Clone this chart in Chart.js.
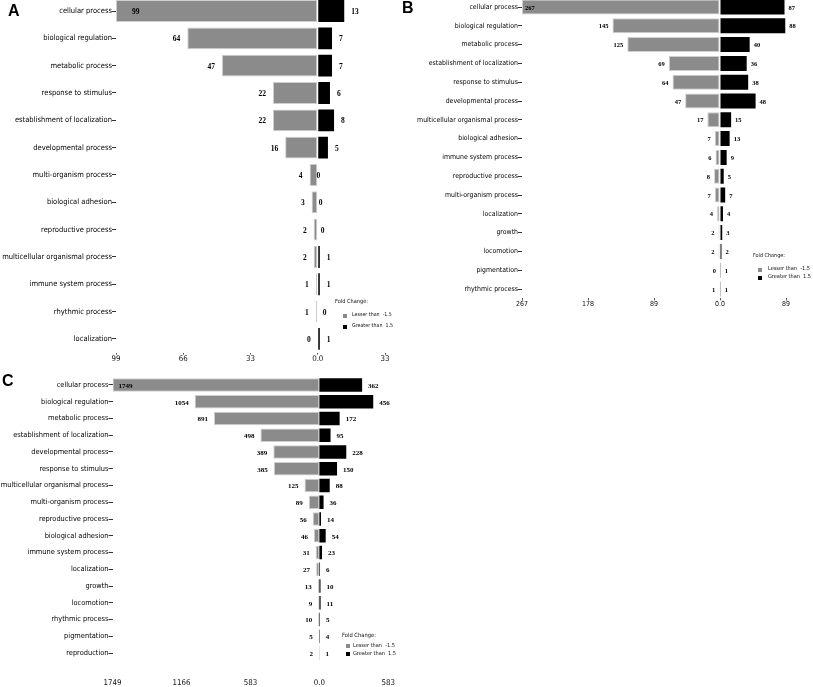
<!DOCTYPE html>
<html>
<head>
<meta charset="utf-8">
<script src="https://cdn.jsdelivr.net/npm/chart.js@4.4.1/dist/chart.umd.min.js"></script>
<style>
  body { margin: 0; background: #fff; }
  #wrap { position: relative; width: 813px; height: 687px; overflow: hidden; background: #fff; }
  .panel { position: absolute; }
  .letter { position: absolute; font-family: "Liberation Sans", Arial, sans-serif; font-weight: bold; font-size: 16px; line-height: 16px; color: #000; }
  .leg { position: absolute; color: #111; white-space: nowrap; line-height: 1; }
  .leg div { position: absolute; }
  .leg .sq { width: 4px; height: 4px; }
</style>
</head>
<body>
<div id="wrap">
  <div class="panel" style="left:0;top:-10px"><canvas id="chartA" width="400" height="380"></canvas></div>
  <div class="panel" style="left:400px;top:-10px"><canvas id="chartB" width="413" height="325"></canvas></div>
  <div class="panel" style="left:0;top:360px"><canvas id="chartC" width="410" height="327"></canvas></div>

  <div class="letter" style="left:8px;top:3px">A</div>
  <div class="letter" style="left:402px;top:0px">B</div>
  <div class="letter" style="left:2px;top:373px">C</div>

  <!-- legendler -->
  <div class="leg" id="legA" style="left:335px;top:299px">
    <div class="t" style="left:0;top:0">Fold Change:</div>
    <div class="sq" style="left:8px;top:15px;background:#8b8b8b"></div>
    <div class="it" style="left:17px;top:13px">Lesser than &nbsp;-1.5</div>
    <div class="sq" style="left:8px;top:26px;background:#000"></div>
    <div class="it" style="left:17px;top:24px">Greater than &nbsp;1.5</div>
  </div>
  <div class="leg" id="legB" style="left:753px;top:253px">
    <div class="t" style="left:0;top:0">Fold Change:</div>
    <div class="sq" style="left:5px;top:15px;background:#8b8b8b"></div>
    <div class="it" style="left:15px;top:13px">Lesser than &nbsp;-1.5</div>
    <div class="sq" style="left:5px;top:23px;background:#000"></div>
    <div class="it" style="left:15px;top:21px">Greater than &nbsp;1.5</div>
  </div>
  <div class="leg" id="legC" style="left:342px;top:633px">
    <div class="t" style="left:0;top:0">Fold Change:</div>
    <div class="sq" style="left:4px;top:11px;background:#8b8b8b"></div>
    <div class="it" style="left:11px;top:10px">Lesser than &nbsp;-1.5</div>
    <div class="sq" style="left:4px;top:19px;background:#000"></div>
    <div class="it" style="left:11px;top:18px">Greater than &nbsp;1.5</div>
  </div>
</div>

<script>
// panel A verileri
const catsA = ['cellular process', 'biological regulation', 'metabolic process', 'response to stimulus',
  'establishment of localization', 'developmental process', 'multi-organism process', 'biological adhesion',
  'reproductive process', 'multicellular organismal process', 'immune system process', 'rhythmic process', 'localization'];
const lesserA = [99, 64, 47, 22, 22, 16, 4, 3, 2, 2, 1, 1, 0];
const greaterA = [13, 7, 7, 6, 8, 5, 0, 0, 0, 1, 1, 0, 1];
const ticksA = [-99, -66, -33, 0, 33];

// panel B
const catsB = ['cellular process', 'biological regulation', 'metabolic process', 'establishment of localization',
  'response to stimulus', 'developmental process', 'multicellular organismal process', 'biological adhesion',
  'immune system process', 'reproductive process', 'multi-organism process', 'localization', 'growth',
  'locomotion', 'pigmentation', 'rhythmic process'];
const lesserB = [267, 145, 125, 69, 64, 47, 17, 7, 6, 8, 7, 4, 2, 2, 0, 1];
const greaterB = [87, 88, 40, 36, 38, 48, 15, 13, 9, 5, 7, 4, 3, 2, 1, 1];
const ticksB = [-267, -178, -89, 0, 89];

// panel C
const catsC = ['cellular process', 'biological regulation', 'metabolic process', 'establishment of localization',
  'developmental process', 'response to stimulus', 'multicellular organismal process', 'multi-organism process',
  'reproductive process', 'biological adhesion', 'immune system process', 'localization', 'growth',
  'locomotion', 'rhythmic process', 'pigmentation', 'reproduction'];
const lesserC = [1749, 1054, 891, 498, 389, 385, 125, 89, 56, 46, 31, 27, 13, 9, 10, 5, 2];
const greaterC = [362, 456, 172, 95, 228, 150, 88, 36, 14, 54, 23, 6, 10, 11, 5, 4, 1];
const ticksC = [-1749, -1166, -583, 0, 583];

const GRAY = '#8b8b8b';

// dar font var mi? yoksa normal sans kucultulur
const mctx = document.createElement('canvas').getContext('2d');
function hasFont(name) {
  const s = 'establishment of localization 0123';
  mctx.font = '20px monospace';
  const a = mctx.measureText(s).width;
  mctx.font = '20px "' + name + '", monospace';
  return mctx.measureText(s).width !== a;
}
const NARROW = ['Liberation Sans Narrow', 'DejaVu Sans Condensed', 'Roboto Condensed', 'Open Sans Condensed']
  .find(hasFont) || 'Liberation Sans';
const FAM = '"' + NARROW + '", "Liberation Sans", sans-serif';

// verilen genislige sigan font boyu
function fitSize(text, width, weight) {
  mctx.font = (weight || '') + ' 10px ' + FAM;
  return 10 * width / mctx.measureText(text).width;
}

function styleLegend(id, titleW, itemW) {
  const el = document.getElementById(id);
  el.style.fontFamily = FAM;
  el.querySelector('.t').style.fontSize = fitSize('Fold Change:', titleW) + 'px';
  el.querySelectorAll('.it').forEach(d => { d.style.fontSize = fitSize('Lesser than  -1.5', itemW) + 'px'; });
}
styleLegend('legA', 33, 40);
styleLegend('legB', 32, 42);
styleLegend('legC', 34, 42);

// bar ucundaki sayilar
const valueLabels = {
  id: 'valueLabels',
  afterDatasetsDraw(chart, args, opts) {
    const ctx = chart.ctx;
    const area = chart.chartArea;
    ctx.save();
    ctx.font = opts.font;
    ctx.fillStyle = '#000';
    ctx.textBaseline = 'middle';
    chart.data.datasets.forEach((ds, di) => {
      const meta = chart.getDatasetMeta(di);
      meta.data.forEach((bar, i) => {
        const txt = String(Math.abs(ds.data[i]));
        const w = ctx.measureText(txt).width;
        const y = bar.y + 1;
        if (di === 0) {
          if (bar.x - opts.gap - w < area.left) { // sigmiyorsa bar icine
            ctx.textAlign = 'left';
            ctx.fillText(txt, bar.x + opts.inside, y);
          } else {
            ctx.textAlign = 'right';
            ctx.fillText(txt, bar.x - opts.gap, y);
          }
        } else {
          ctx.textAlign = 'left';
          ctx.fillText(txt, bar.x + opts.gap, y);
        }
      });
    });
    ctx.restore();
  }
};

function makeChart(id, cats, lesser, greater, ticks, look) {
  return new Chart(document.getElementById(id), {
    type: 'bar',
    data: {
      labels: cats,
      datasets: [
        { label: 'Lesser than -1.5', data: lesser.map(v => -v), backgroundColor: GRAY,
          borderColor: '#cfcfcf', borderWidth: 1, borderSkipped: false },
        { label: 'Greater than 1.5', data: greater, backgroundColor: '#000', borderWidth: 0 }
      ]
    },
    options: {
      indexAxis: 'y',
      responsive: false,
      animation: false,
      layout: { padding: look.pad },
      datasets: { bar: { categoryPercentage: 1, barPercentage: 0.8 } },
      scales: {
        x: {
          stacked: true,
          min: ticks[0],
          max: ticks[ticks.length - 1],
          afterBuildTicks: s => { s.ticks = ticks.map(v => ({ value: v })); },
          afterFit: s => { s.height = look.xH; },
          grid: { display: look.xMarks, drawOnChartArea: false, tickLength: 2, color: '#555' },
          border: { display: false },
          ticks: {
            autoSkip: false, maxRotation: 0, padding: look.xPad, color: '#111',
            font: { family: FAM, size: look.xFont },
            callback: v => v === 0 ? '0.0' : String(Math.abs(v))
          }
        },
        y: {
          stacked: true,
          afterFit: s => { s.width = look.yW; },
          grid: { display: true, offset: false, drawOnChartArea: false, tickLength: 4, color: '#333' },
          border: { display: false },
          ticks: {
            autoSkip: false, padding: 0, color: '#000',
            font: { family: FAM, size: look.yFont }
          }
        }
      },
      plugins: {
        legend: { display: false },
        tooltip: { enabled: false },
        valueLabels: { font: 'bold ' + look.vFont + 'px "Liberation Serif", "Times New Roman", serif',
          gap: look.gap, inside: look.inside }
      }
    },
    plugins: [valueLabels]
  });
}

const REF = 'multicellular organismal process';

makeChart('chartA', catsA, lesserA, greaterA, ticksA, {
  pad: { top: 7.35, right: 15, bottom: 0, left: 0 }, yW: 116, xH: 17.4, xPad: 0, xMarks: true,
  xFont: fitSize('1749', 18), yFont: fitSize(REF, 110), vFont: 7.5, gap: 7, inside: 16
});
makeChart('chartB', catsB, lesserB, greaterB, ticksB, {
  pad: { top: 7.6, right: 27, bottom: 0, left: 0 }, yW: 122, xH: 16.6, xPad: 0, xMarks: true,
  xFont: fitSize('1749', 16), yFont: fitSize(REF, 101), vFont: 6.5, gap: 4, inside: 3
});
makeChart('chartC', catsC, lesserC, greaterC, ticksC, {
  pad: { top: 16.6, right: 20, bottom: 0, left: 0 }, yW: 112.5, xH: 25.6, xPad: 15, xMarks: false,
  xFont: fitSize('1749', 18), yFont: fitSize(REF, 108), vFont: 7, gap: 6, inside: 6
});
</script>
</body>
</html>
